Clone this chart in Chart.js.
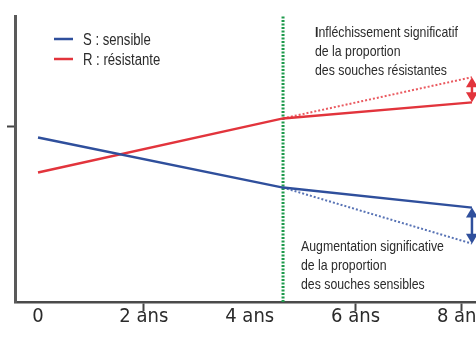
<!DOCTYPE html>
<html>
<head>
<meta charset="utf-8">
<script src="https://cdn.jsdelivr.net/npm/chart.js@4"></script>
<style>
  html, body { margin: 0; padding: 0; background: #fff; overflow: hidden; }
  #wrap { width: 520px; height: 339px; }
</style>
</head>
<body>
<div id="wrap"><canvas id="chart" width="520" height="339"></canvas></div>
<script>
// DATA
const years = [0, 4.63, 8.2];
const sensible = [57.5, 40.0, 33.0];
const resistante = [45.3, 64.2, 69.8];
const projYears = [4.63, 8.2];
const sensibleProj = [40.0, 20.4];
const resistanteProj = [64.2, 78.6];
const switchYear = 4.63;
const xTicks = [0, 2, 4, 6, 8];
const xTickLabels = ["0", "2 ans", "4 ans", "6 ans", "8 ans"];
const xTicksMarked = [2, 6, 8];
const yTicks = [61.4];

const TICK_FONT = "'DejaVu Sans Condensed', 'Liberation Sans Narrow', sans-serif";
const NOTE_FONT = "'Liberation Sans', Arial, sans-serif";
const SQUEEZE = 0.82; // narrow look for the notes
const BLUE = "#2f4f9c";
const RED = "#e2343c";
const GREEN = "#1e9a4c";
const TEXT = "#2b2b2b";

const toPoints = (xs, ys) => xs.map((x, i) => ({ x: x, y: ys[i] }));

// condensed text helper, returns drawn width
function narrowText(ctx, text, x, y, font) {
  ctx.save();
  ctx.font = font;
  ctx.translate(x, y);
  ctx.scale(SQUEEZE, 1);
  ctx.fillText(text, 0, 0);
  const w = ctx.measureText(text).width * SQUEEZE;
  ctx.restore();
  return w;
}

// LEGEND + NOTES + ARROWS
const extras = {
  id: "extras",
  afterDatasetsDraw(chart) {
    const ctx = chart.ctx;
    const x = chart.scales.x;
    const y = chart.scales.y;
    ctx.save();

    // legend
    const legend = [
      { color: BLUE, text: "S : sensible", y: 39 },
      { color: RED, text: "R : résistante", y: 59 },
    ];
    legend.forEach((item) => {
      ctx.strokeStyle = item.color;
      ctx.lineWidth = 2.5;
      ctx.beginPath();
      ctx.moveTo(54, item.y);
      ctx.lineTo(73, item.y);
      ctx.stroke();
      ctx.fillStyle = TEXT;
      ctx.textBaseline = "alphabetic";
      narrowText(ctx, item.text, 83, item.y + 5.5, "16px " + NOTE_FONT);
    });

    // notes
    ctx.textBaseline = "alphabetic";
    ctx.fillStyle = TEXT;
    const iw = narrowText(ctx, "I", 315, 37, "bold 15px " + NOTE_FONT);
    narrowText(ctx, "nfléchissement significatif", 315 + iw, 37, "15px " + NOTE_FONT);
    narrowText(ctx, "de la proportion", 315, 56, "15px " + NOTE_FONT);
    narrowText(ctx, "des souches résistantes", 315, 75, "15px " + NOTE_FONT);

    narrowText(ctx, "Augmentation significative", 301, 251, "15px " + NOTE_FONT);
    narrowText(ctx, "de la proportion", 301, 270, "15px " + NOTE_FONT);
    narrowText(ctx, "des souches sensibles", 301, 289, "15px " + NOTE_FONT);

    // double arrows
    const endYear = years[years.length - 1];
    const arrows = [
      { color: RED, a: resistanteProj[1], b: resistante[2] },
      { color: BLUE, a: sensible[2], b: sensibleProj[1] },
    ];
    arrows.forEach((ar) => {
      const px = x.getPixelForValue(endYear);
      const ya = y.getPixelForValue(ar.a);
      const yb = y.getPixelForValue(ar.b);
      ctx.strokeStyle = ar.color;
      ctx.fillStyle = ar.color;
      ctx.lineWidth = 2.5;
      ctx.beginPath();
      ctx.moveTo(px, ya + 6);
      ctx.lineTo(px, yb - 6);
      ctx.stroke();
      ctx.beginPath();
      ctx.moveTo(px, ya);
      ctx.lineTo(px - 6, ya + 10);
      ctx.lineTo(px + 6, ya + 10);
      ctx.closePath();
      ctx.fill();
      ctx.beginPath();
      ctx.moveTo(px, yb);
      ctx.lineTo(px - 6, yb - 10);
      ctx.lineTo(px + 6, yb - 10);
      ctx.closePath();
      ctx.fill();
    });
    ctx.restore();
  },
};

new Chart(document.getElementById("chart"), {
  type: "line",
  data: {
    datasets: [
      {
        label: "S : sensible",
        data: toPoints(years, sensible),
        borderColor: BLUE,
        borderWidth: 2.5,
      },
      {
        label: "R : résistante",
        data: toPoints(years, resistante),
        borderColor: RED,
        borderWidth: 2.5,
      },
      {
        label: "S projection",
        data: toPoints(projYears, sensibleProj),
        borderColor: "#5873b5",
        borderWidth: 2,
        borderDash: [2, 2],
      },
      {
        label: "R projection",
        data: toPoints(projYears, resistanteProj),
        borderColor: "#ea5a60",
        borderWidth: 2,
        borderDash: [2, 2],
      },
      {
        label: "switch",
        data: [{ x: switchYear, y: 0 }, { x: switchYear, y: 100 }],
        borderColor: GREEN,
        borderWidth: 3,
        borderDash: [2, 1.5],
      },
    ],
  },
  options: {
    responsive: false,
    animation: false,
    devicePixelRatio: 1,
    elements: { point: { radius: 0 }, line: { tension: 0 } },
    layout: { padding: { left: 7, top: 16, right: 20, bottom: 16 } },
    plugins: { legend: { display: false }, tooltip: { enabled: false } },
    scales: {
      x: {
        type: "linear",
        min: -0.435,
        max: 8.73,
        afterBuildTicks: (scale) => {
          scale.ticks = xTicks.map((v) => ({ value: v }));
        },
        ticks: {
          callback: (v) => xTickLabels[xTicks.indexOf(v)],
          font: { family: TICK_FONT, size: 20 },
          color: TEXT,
          padding: -6,
          maxRotation: 0,
        },
        grid: {
          drawOnChartArea: false,
          drawTicks: true,
          tickLength: 9,
          tickWidth: 2,
          tickColor: (c) => (c.tick && xTicksMarked.includes(c.tick.value) ? "#444" : "rgba(0,0,0,0)"),
        },
        border: { color: "#4a4a4a", width: 2.5 },
      },
      y: {
        type: "linear",
        min: 0,
        max: 100,
        afterBuildTicks: (scale) => {
          scale.ticks = yTicks.map((v) => ({ value: v }));
        },
        ticks: { display: false },
        grid: {
          drawOnChartArea: false,
          drawTicks: true,
          tickLength: 8,
          tickWidth: 2,
          tickColor: "#444",
        },
        border: { color: "#5a5a5a", width: 3 },
      },
    },
  },
  plugins: [extras],
});
</script>
</body>
</html>
